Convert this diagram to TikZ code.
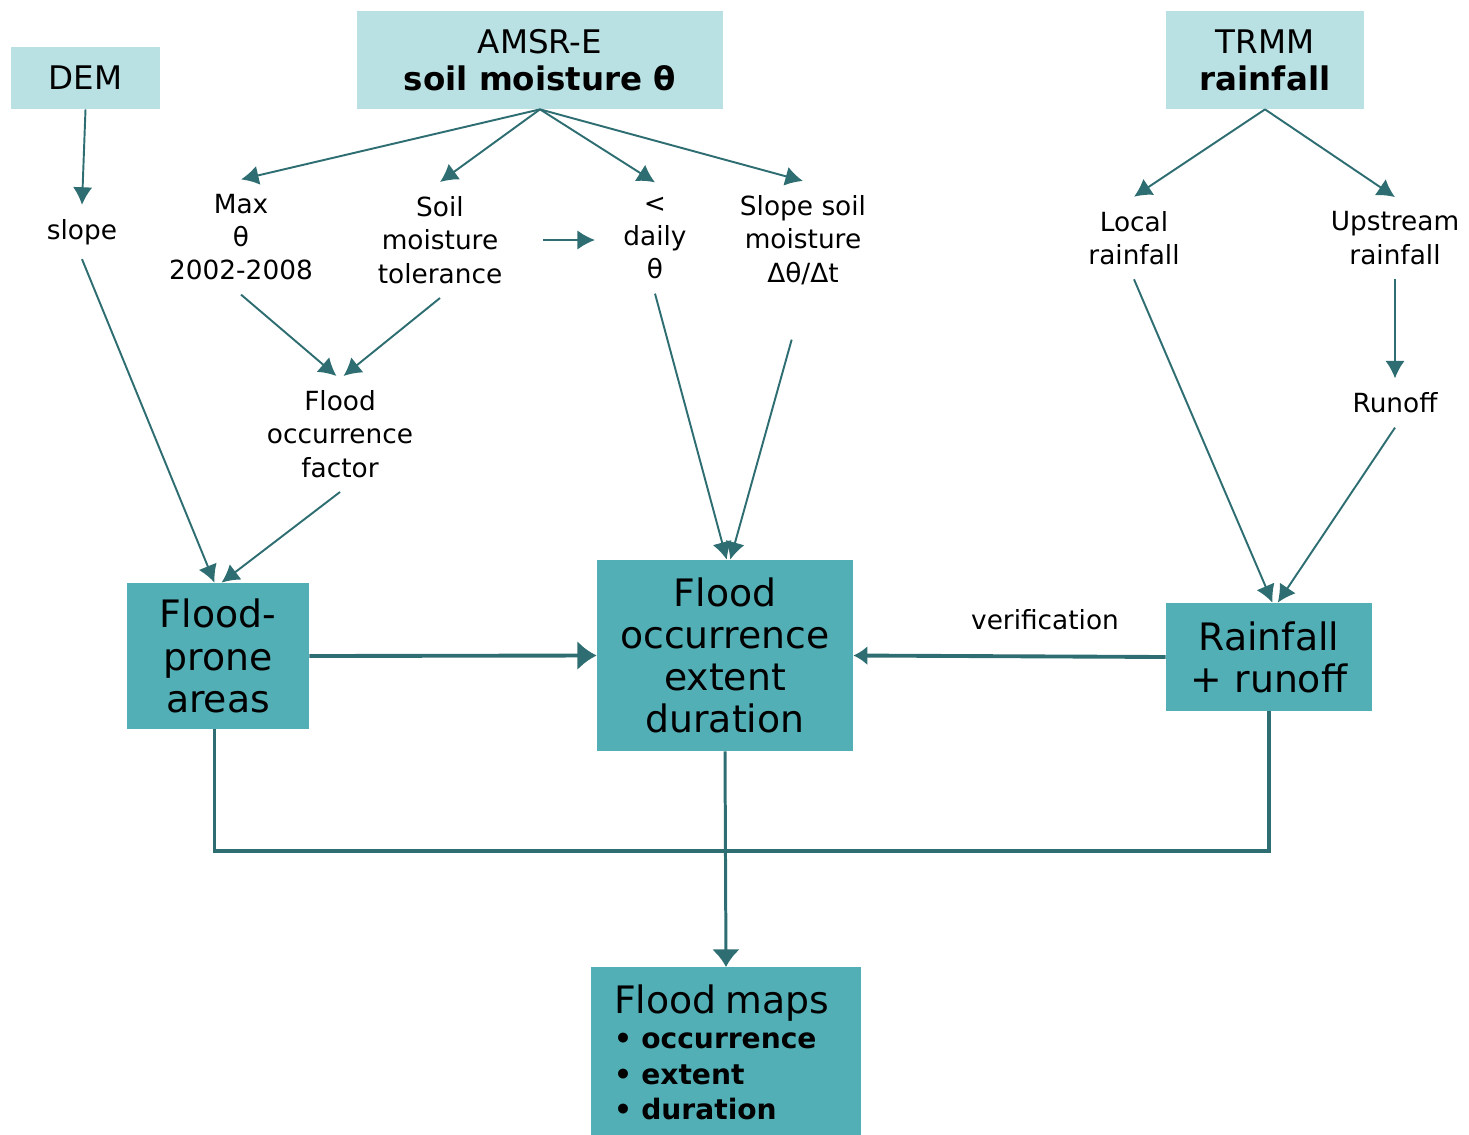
\documentclass[tikz,border=0pt]{standalone}
\usepackage{fontspec}
\setmainfont{DejaVu Sans}
\usepackage{tikz}
\usetikzlibrary{arrows.meta, positioning}
\definecolor{sourcecolor}{RGB}{185, 224, 227}
\definecolor{resultcolor}{RGB}{82, 175, 182}
\definecolor{linkcolor}{RGB}{46, 110, 114}

\begin{document}
\begin{tikzpicture}[
    x=2mm, y=-2mm,
    source/.style={fill=sourcecolor, align=center, inner sep=0pt, font=\fontsize{18.5}{21}\selectfont},
    result/.style={fill=resultcolor, align=center, inner sep=0pt, font=\fontsize{21.5}{24}\selectfont},
    param/.style={align=center, inner sep=8pt, font=\fontsize{15}{19}\selectfont},
    link/.style={draw=linkcolor, line width=1.1pt, -{Latex[length=10pt, width=11pt]}},
    mainlink/.style={draw=linkcolor, line width=2.2pt, -{Latex[length=11pt, width=17pt]}},
    merge/.style={draw=linkcolor, line width=1.8pt},
]
    \useasboundingbox (0,0) rectangle (146.9,113.4);

    % Data sources
    \node[source, minimum width=2.98cm, minimum height=1.24cm] (dem) at (8.55,7.8) {DEM};
    \node[source, minimum width=7.32cm, minimum height=1.96cm] (amsr) at (54.0,6.0) {AMSR-E\\\textbf{soil moisture θ}};
    \node[source, minimum width=3.96cm, minimum height=1.96cm] (trmm) at (126.5,6.0) {TRMM\\\textbf{rainfall}};

    % Derived parameters
    \node[param] (slope) at (8.2,23.2) {slope};
    \node[param] (maxth) at (24.1,23.7) {Max\\θ\\2002-2008};
    \node[param] (tol) at (44.0,24.0) {Soil\\moisture\\tolerance};
    \node[param] (daily) at (65.5,23.8) {<\\daily\\θ};
    \node[param] (slsoil) at (80.3,24.0) {Slope soil\\moisture\\Δθ/Δt};
    \node[param] (local) at (113.4,23.8) {Local\\rainfall};
    \node[param] (upstr) at (139.5,23.8) {Upstream\\rainfall};
    \node[param] (runoff) at (139.5,40.3) {Runoff};
    \node[param] (factor) at (34.0,43.4) {Flood\\occurrence\\factor};

    % Results
    \node[result, minimum width=3.64cm, minimum height=2.92cm] (prone) at (21.8,65.6) {Flood-\\prone\\areas};
    \node[result, minimum width=5.12cm, minimum height=3.82cm] (occ) at (72.5,65.55) {Flood\\occurrence\\extent\\duration};
    \node[result, minimum width=4.12cm, minimum height=2.16cm] (rainrun) at (126.9,65.7) {Rainfall\\+ runoff};
    \node[result, anchor=north, minimum width=5.4cm, minimum height=3.4cm, text width=4.48cm, align=left,
          inner xsep=0.46cm, font=\fontsize{16}{20}\selectfont\bfseries] (maps) at (72.6,96.7)
          {{\mdseries\fontsize{21.5}{24}\selectfont Flood maps}\\\textbullet\ occurrence\\\textbullet\ extent\\\textbullet\ duration};
    \node[param, inner sep=0pt] (verif) at (104.5,62.0) {verification};

    % Links
    \draw[link] (dem.south) -- (slope.north);
    \draw[link] (amsr.south) -- (maxth.north);
    \draw[link] (amsr.south) -- (tol.north);
    \draw[link] (amsr.south) -- (daily.north);
    \draw[link] (amsr.south) -- (slsoil.north);
    \draw[link, shorten <=15pt, shorten >=8pt] (tol.east) -- (tol.east -| daily.west);
    \draw[link] (maxth.south) -- ([xshift=-2pt]factor.north);
    \draw[link] (tol.south) -- ([xshift=2pt]factor.north);
    \draw[link] (slope.south) -- ([xshift=-2pt]prone.north);
    \draw[link] (factor.south) -- ([xshift=2pt]prone.north);
    \draw[link] (daily.south) -- ([xshift=1pt]occ.north);
    \draw[link, shorten <=24pt] (slsoil.south) -- ([xshift=3pt]occ.north);
    \draw[link] (trmm.south) -- (local.north);
    \draw[link] (trmm.south) -- (upstr.north);
    \draw[link] (upstr.south) -- (runoff.north);
    \draw[link] (local.south) -- ([xshift=2pt]rainrun.north);
    \draw[link] (runoff.south) -- ([xshift=5pt]rainrun.north);

    \draw[mainlink] (prone.east) -- (occ.west);
    \draw[mainlink, -{Latex[length=8pt, width=11pt]}] (rainrun.west) -- (occ.east);
    \coordinate (join) at (72.5,85.1);
    \draw[merge] ([xshift=-2pt]prone.south) |- (join) -| (rainrun.south);
    \draw[mainlink, line width=1.7pt, -{Latex[length=10pt, width=16pt]}] (occ.south) -- (maps.north);
\end{tikzpicture}
\end{document}
